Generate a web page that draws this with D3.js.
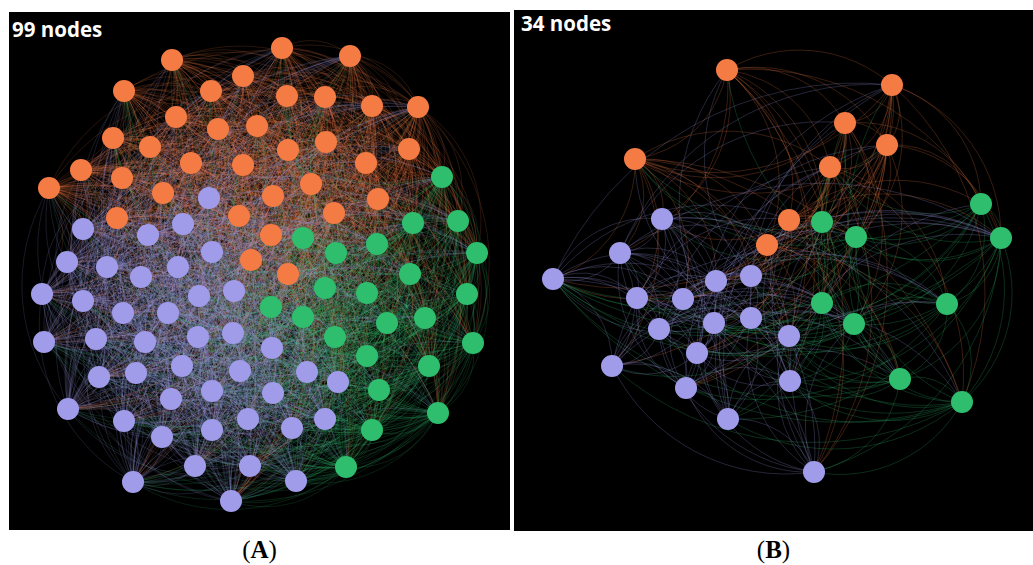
<!DOCTYPE html>
<html>
<head>
<meta charset="utf-8">
<script src="https://cdn.jsdelivr.net/npm/d3@7/dist/d3.min.js"></script>
<style>
  html, body { margin: 0; padding: 0; background: #fff; }
  svg { display: block; }
</style>
</head>
<body>
<svg id="chart" width="1033" height="565"></svg>
<script>
// Community colours
const communityColors = { orange: "#f47c44", green: "#2ebe6e", purple: "#a09cea" };

// Panel A: 99-node layout (layout units, origin at the panel's top-left)
const orangeA = [
  [273,36],[341,44],[163,48],[234,64],[115,79],[202,79],[278,84],[316,85],[363,94],[409,95],
  [167,105],[248,114],[209,117],[104,126],[141,135],[317,130],[279,138],[400,137],[72,158],[182,151],
  [234,153],[357,151],[113,166],[40,176],[154,181],[302,172],[264,184],[369,187],[325,201],[108,206],
  [230,204],[262,223],[242,248],[279,262]
];
const greenA = [
  [433,165],[404,211],[449,209],[294,226],[368,232],[327,241],[468,241],[401,262],[316,276],[358,281],
  [458,282],[262,295],[294,305],[416,306],[378,311],[326,325],[464,331],[358,344],[420,354],[370,378],
  [429,401],[363,418],[337,455]
];
const purpleA = [
  [200,186],[74,217],[174,212],[139,223],[203,240],[58,250],[98,255],[132,265],[169,255],[33,282],
  [74,289],[114,301],[159,301],[190,284],[225,279],[35,330],[87,327],[136,330],[189,325],[224,321],
  [263,336],[90,365],[127,361],[173,354],[231,359],[298,360],[329,370],[59,397],[115,409],[162,387],
  [203,379],[153,425],[203,418],[239,407],[264,381],[283,416],[316,407],[186,454],[241,454],[124,470],
  [222,489],[287,469]
];

// Panel B: 34-node layout
const orangeB = [
  [213,60],[378,75],[331,113],[373,135],[121,149],[316,157],[275,210],[253,235]
];
const greenB = [
  [467,194],[487,228],[308,212],[342,227],[308,293],[340,314],[433,294],[386,369],[448,392]
];
const purpleB = [
  [148,209],[106,243],[39,269],[123,288],[169,289],[202,271],[237,266],[145,319],[200,313],[237,308],
  [183,343],[98,356],[275,326],[172,378],[214,409],[276,371],[300,462]
];

// Panel titles and captions
const panelTitles = ["99 nodes", "34 nodes"];
const panelCaptions = ["A", "B"];

const panels = [
  { x: 9,   y: 12, w: 501, h: 518, groups: [["orange", orangeA], ["green", greenA], ["purple", purpleA]],
    near: 24, stride: 3, edgeOpacity: 0.3, edgeWidth: 0.55, title: panelTitles[0], caption: panelCaptions[0],
    titleDx: 3, titleDy: 25 },
  { x: 514, y: 10, w: 519, h: 521, groups: [["orange", orangeB], ["green", greenB], ["purple", purpleB]],
    near: 8, stride: 4, edgeOpacity: 0.4, edgeWidth: 0.6, title: panelTitles[1], caption: panelCaptions[1],
    titleDx: 7, titleDy: 21 }
];

const svg = d3.select("#chart");
const nodeRadius = 11;

// Flatten the community arrays into one node list
function buildNodes(groups) {
  const out = [];
  groups.forEach(([name, pts]) => pts.forEach(p => out.push({ x: p[0], y: p[1], community: name })));
  return out;
}

// Each node links to its nearest neighbours plus a stride of farther partners
function buildEdges(nodes, near, stride) {
  const seen = new Set();
  const edges = [];
  nodes.forEach((n, i) => {
    const others = nodes
      .map((m, j) => ({ j, d: Math.hypot(m.x - n.x, m.y - n.y) }))
      .filter(o => o.j !== i)
      .sort((a, b) => a.d - b.d);
    others.forEach((o, rank) => {
      if (rank < near || (rank - near) % stride === 0) {
        const s = Math.min(i, o.j), t = Math.max(i, o.j);
        const key = s + "-" + t;
        if (!seen.has(key)) { seen.add(key); edges.push({ source: i, target: o.j }); }
      }
    });
  });
  return edges;
}

panels.forEach(p => {
  const nodes = buildNodes(p.groups);
  const edges = buildEdges(nodes, p.near, p.stride);

  const xScale = d3.scaleLinear().domain([0, p.w]).range([p.x, p.x + p.w]);
  const yScale = d3.scaleLinear().domain([0, p.h]).range([p.y, p.y + p.h]);

  const g = svg.append("g");
  g.append("rect")
    .attr("x", p.x).attr("y", p.y)
    .attr("width", p.w).attr("height", p.h)
    .attr("fill", "#000");

  const clipId = "clip-" + p.caption;
  svg.append("clipPath").attr("id", clipId)
    .append("rect").attr("x", p.x).attr("y", p.y).attr("width", p.w).attr("height", p.h);

  const edgeLayer = g.append("g").attr("clip-path", `url(#${clipId})`);
  edgeLayer.selectAll("path")
    .data(edges)
    .join("path")
    .attr("d", e => {
      const a = nodes[e.source], b = nodes[e.target];
      const x1 = xScale(a.x), y1 = yScale(a.y), x2 = xScale(b.x), y2 = yScale(b.y);
      const r = Math.hypot(x2 - x1, y2 - y1) * 0.85;
      return `M${x1},${y1}A${r},${r} 0 0 1 ${x2},${y2}`;
    })
    .attr("fill", "none")
    .attr("stroke", e => communityColors[nodes[e.source].community])
    .attr("stroke-opacity", p.edgeOpacity)
    .attr("stroke-width", p.edgeWidth);

  g.append("g").selectAll("circle")
    .data(nodes)
    .join("circle")
    .attr("cx", d => xScale(d.x))
    .attr("cy", d => yScale(d.y))
    .attr("r", nodeRadius)
    .attr("fill", d => communityColors[d.community]);

  g.append("text")
    .attr("x", p.x + p.titleDx)
    .attr("y", p.y + p.titleDy)
    .attr("fill", "#fff")
    .attr("font-family", "'Open Sans', sans-serif")
    .attr("font-weight", 700)
    .attr("font-size", 20.5)
    .text(p.title);

  const cap = svg.append("text")
    .attr("x", p.x + p.w / 2)
    .attr("y", 558)
    .attr("text-anchor", "middle")
    .attr("fill", "#000")
    .attr("font-family", "'Liberation Serif', 'DejaVu Serif', serif")
    .attr("font-size", 25);
  cap.append("tspan").text("(");
  cap.append("tspan").attr("font-weight", 700).text(p.caption);
  cap.append("tspan").text(")");
});
</script>
</body>
</html>
